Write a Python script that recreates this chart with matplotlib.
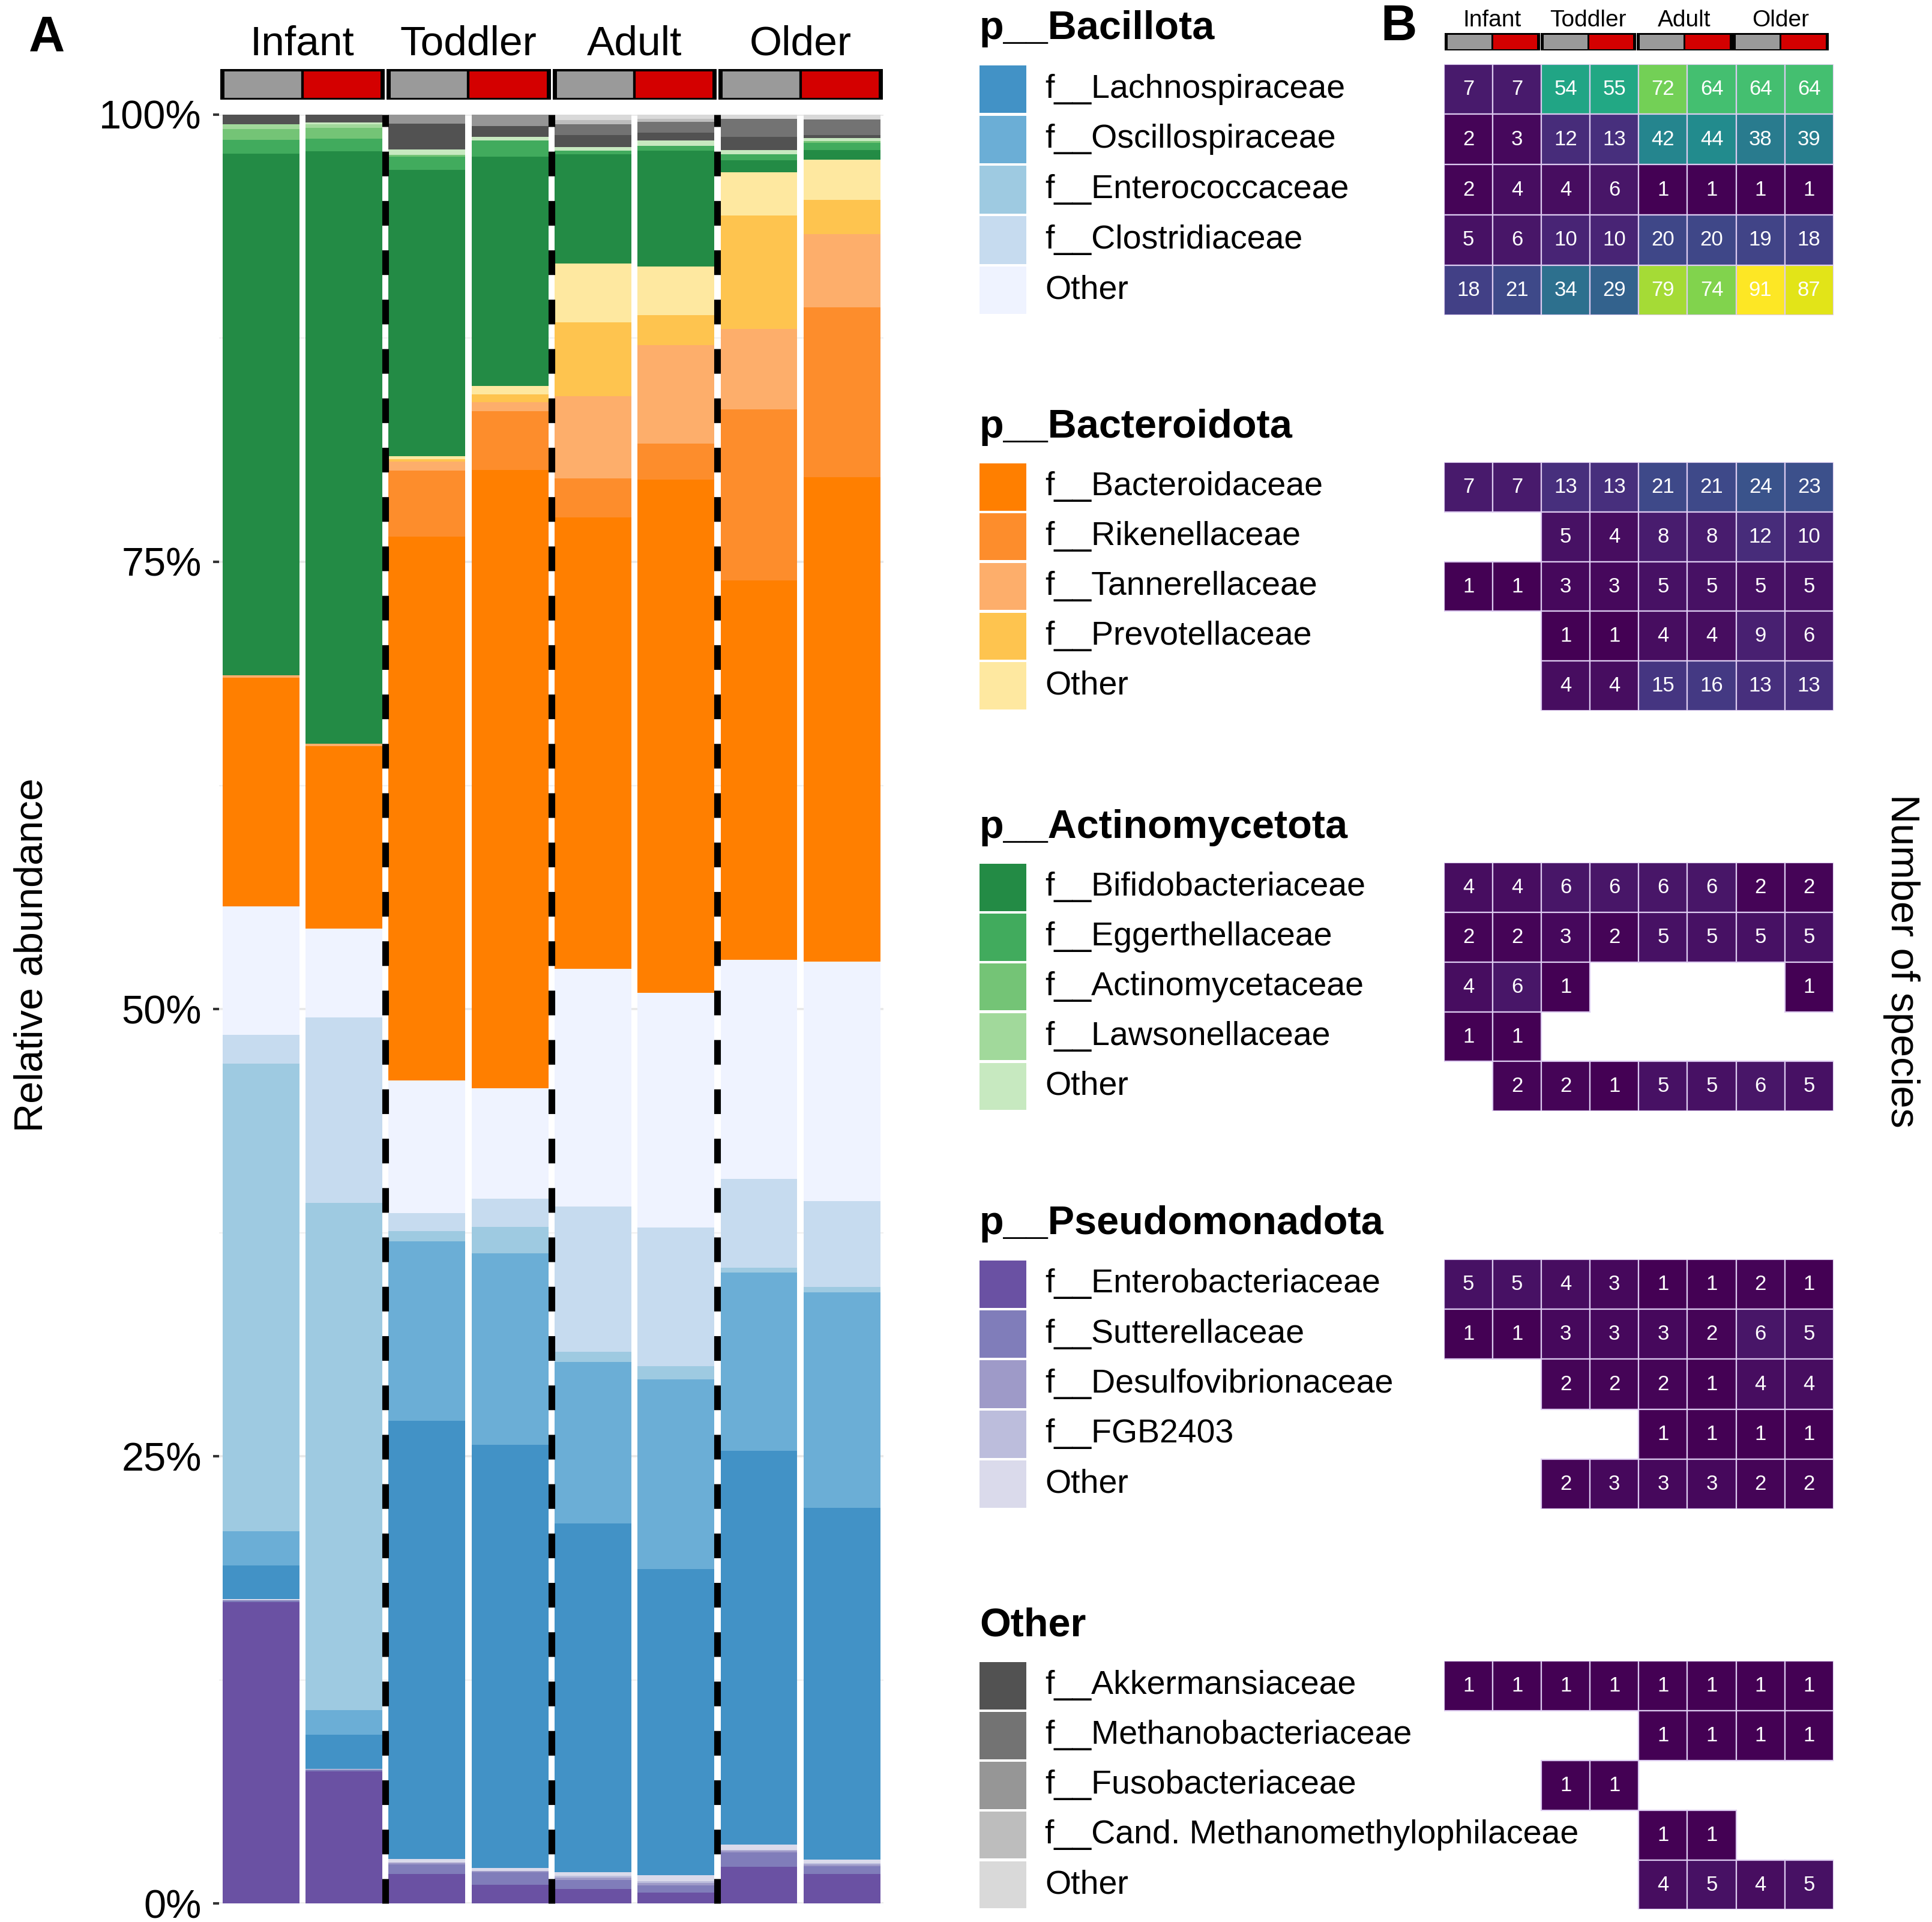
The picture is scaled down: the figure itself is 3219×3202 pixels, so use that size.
import matplotlib.pyplot as plt
import matplotlib.colors as mcolors
import numpy as np

plt.rcParams['font.family'] = ['Liberation Sans', 'DejaVu Sans']

# samples: control (grey) / case (red) per age group
age_groups = ['Infant', 'Toddler', 'Adult', 'Older']
condition_colors = ['#9a9a9a', '#d40000']

# relative abundance (%) per sample: Infant C, Infant T, Toddler C, Toddler T, Adult C, Adult T, Older C, Older T
# p__Pseudomonadota
enterobacteriaceae = [16.9, 7.4, 1.65, 1.06, 0.8, 0.62, 2.07, 1.65]
sutterellaceae = [0.1, 0.1, 0.55, 0.68, 0.5, 0.4, 0.8, 0.45]
desulfovibrionaceae = [0, 0, 0.1, 0.08, 0.15, 0.12, 0.1, 0.1]
fgb2403 = [0, 0, 0, 0, 0.1, 0.1, 0.05, 0.05]
other_pseudo = [0.05, 0.05, 0.2, 0.17, 0.2, 0.35, 0.3, 0.2]
# p__Bacillota
lachnospiraceae = [1.9, 1.9, 24.5, 23.7, 19.5, 17.1, 22.1, 19.7]
oscillospiraceae = [1.9, 1.4, 10.0, 10.7, 9.0, 10.6, 10.0, 12.05]
enterococcaceae = [26.2, 28.4, 0.6, 1.5, 0.6, 0.75, 0.27, 0.3]
clostridiaceae = [1.6, 10.4, 1.0, 1.55, 8.1, 7.75, 5.0, 4.8]
other_bacillota = [7.2, 5.0, 7.4, 6.2, 13.3, 13.1, 12.3, 13.4]
# p__Bacteroidota
bacteroidaceae = [12.8, 10.2, 30.4, 34.6, 25.2, 28.7, 21.3, 27.1]
rikenellaceae = [0, 0, 3.7, 3.3, 2.2, 2.0, 9.6, 9.5]
tannerellaceae = [0.15, 0.15, 0.5, 0.5, 4.6, 5.5, 4.5, 4.1]
prevotellaceae = [0, 0, 0.15, 0.45, 4.1, 1.7, 6.4, 1.9]
other_bacteroidota = [0, 0, 0.15, 0.45, 3.3, 2.7, 2.4, 2.25]
# p__Actinomycetota
bifidobacteriaceae = [29.2, 33.2, 16.0, 12.85, 6.1, 6.5, 0.67, 0.55]
eggerthellaceae = [0.8, 0.7, 0.75, 0.9, 0.2, 0.25, 0.35, 0.4]
actinomycetaceae = [0.6, 0.6, 0.1, 0, 0, 0, 0, 0.1]
lawsonellaceae = [0.25, 0.2, 0, 0, 0, 0, 0, 0]
other_actino = [0, 0.1, 0.3, 0.2, 0.2, 0.3, 0.25, 0.15]
# Other
akkermansiaceae = [0.55, 0.45, 1.45, 0.6, 0.67, 0.45, 0.73, 0.2]
methanobacteriaceae = [0, 0, 0, 0, 0.6, 0.6, 1.0, 0.85]
fusobacteriaceae = [0, 0, 0.5, 0.65, 0, 0, 0, 0]
cand_methano = [0, 0, 0, 0, 0.25, 0.15, 0, 0]
other_other = [0, 0, 0, 0, 0.3, 0.25, 0.25, 0.28]

# number of species (NaN = absent)
nan = np.nan
bacillota_counts = [[7, 7, 54, 55, 72, 64, 64, 64],
                    [2, 3, 12, 13, 42, 44, 38, 39],
                    [2, 4, 4, 6, 1, 1, 1, 1],
                    [5, 6, 10, 10, 20, 20, 19, 18],
                    [18, 21, 34, 29, 79, 74, 91, 87]]
bacteroidota_counts = [[7, 7, 13, 13, 21, 21, 24, 23],
                       [nan, nan, 5, 4, 8, 8, 12, 10],
                       [1, 1, 3, 3, 5, 5, 5, 5],
                       [nan, nan, 1, 1, 4, 4, 9, 6],
                       [nan, nan, 4, 4, 15, 16, 13, 13]]
actino_counts = [[4, 4, 6, 6, 6, 6, 2, 2],
                 [2, 2, 3, 2, 5, 5, 5, 5],
                 [4, 6, 1, nan, nan, nan, nan, 1],
                 [1, 1, nan, nan, nan, nan, nan, nan],
                 [nan, 2, 2, 1, 5, 5, 6, 5]]
pseudo_counts = [[5, 5, 4, 3, 1, 1, 2, 1],
                 [1, 1, 3, 3, 3, 2, 6, 5],
                 [nan, nan, 2, 2, 2, 1, 4, 4],
                 [nan, nan, nan, nan, 1, 1, 1, 1],
                 [nan, nan, 2, 3, 3, 3, 2, 2]]
other_counts = [[1, 1, 1, 1, 1, 1, 1, 1],
                [nan, nan, nan, nan, 1, 1, 1, 1],
                [nan, nan, 1, 1, nan, nan, nan, nan],
                [nan, nan, nan, nan, 1, 1, nan, nan],
                [nan, nan, nan, nan, 4, 5, 4, 5]]

blues = ['#4292c6', '#6baed6', '#9ecae1', '#c6dbef', '#eff3ff']
oranges = ['#ff7f00', '#fd8d2c', '#fdae6b', '#fec44f', '#fee8a0']
greens = ['#238b45', '#41ab5d', '#74c476', '#a1d99b', '#c7e9c0']
purples = ['#6a51a3', '#807dba', '#9e9ac8', '#bcbddc', '#dadaeb']
greys = ['#525252', '#737373', '#969696', '#bdbdbd', '#d9d9d9']

# phyla in legend order
phyla = [
    ('p__Bacillota', ['f__Lachnospiraceae', 'f__Oscillospiraceae', 'f__Enterococcaceae',
                      'f__Clostridiaceae', 'Other'], blues,
     [lachnospiraceae, oscillospiraceae, enterococcaceae, clostridiaceae, other_bacillota],
     bacillota_counts),
    ('p__Bacteroidota', ['f__Bacteroidaceae', 'f__Rikenellaceae', 'f__Tannerellaceae',
                         'f__Prevotellaceae', 'Other'], oranges,
     [bacteroidaceae, rikenellaceae, tannerellaceae, prevotellaceae, other_bacteroidota],
     bacteroidota_counts),
    ('p__Actinomycetota', ['f__Bifidobacteriaceae', 'f__Eggerthellaceae', 'f__Actinomycetaceae',
                           'f__Lawsonellaceae', 'Other'], greens,
     [bifidobacteriaceae, eggerthellaceae, actinomycetaceae, lawsonellaceae, other_actino],
     actino_counts),
    ('p__Pseudomonadota', ['f__Enterobacteriaceae', 'f__Sutterellaceae', 'f__Desulfovibrionaceae',
                           'f__FGB2403', 'Other'], purples,
     [enterobacteriaceae, sutterellaceae, desulfovibrionaceae, fgb2403, other_pseudo],
     pseudo_counts),
    ('Other', ['f__Akkermansiaceae', 'f__Methanobacteriaceae', 'f__Fusobacteriaceae',
               'f__Cand. Methanomethylophilaceae', 'Other'], greys,
     [akkermansiaceae, methanobacteriaceae, fusobacteriaceae, cand_methano, other_other],
     other_counts),
]
stack_order = [3, 0, 1, 2, 4]  # bottom to top

fig = plt.figure(figsize=(3219 / 200, 3202 / 200), dpi=200)


def fx(x):
    return x / 1568


def fy(y):
    return 1 - y / 1560


# ---- panel A: stacked bars ----
ax = fig.add_axes([fx(178), fy(1545), fx(717) - fx(178), fy(93) - fy(1545)])
x = np.arange(8)
layers = []
for p in stack_order:
    for vals, col in zip(phyla[p][3], phyla[p][2]):
        layers.append((np.array(vals, float), col))
totals = sum(v for v, _ in layers)
bottom = np.zeros(8)
for vals, col in layers:
    v = vals / totals * 100
    ax.bar(x, v, width=0.925, bottom=bottom, color=col, linewidth=0, zorder=2)
    bottom += v
for b in [1.5, 3.5, 5.5]:
    ax.plot([b, b], [0, 100], color='black', lw=4, linestyle=(0, (3.7, 3.7)),
            dash_capstyle='butt', zorder=5, clip_on=False)
ax.set_xlim(-0.5, 7.5)
ax.set_ylim(0, 100)
ax.set_yticks([0, 25, 50, 75, 100])
ax.set_yticklabels(['0%', '25%', '50%', '75%', '100%'])
ax.set_yticks(np.arange(12.5, 100, 25), minor=True)
ax.grid(axis='y', which='major', color='#e8e8e8', lw=1.3)
ax.grid(axis='y', which='minor', color='#f0f0f0', lw=0.8)
ax.set_axisbelow(True)
ax.set_xticks([])
ax.tick_params(axis='y', which='major', length=3.6, width=1.5, color='#333333',
               labelsize=24, pad=7)
ax.tick_params(axis='y', which='minor', length=0)
for s in ax.spines.values():
    s.set_visible(False)
fig.text(fx(26), fy(775), 'Relative abundance', rotation=90, fontsize=24,
         ha='center', va='center')
fig.text(fx(38), fy(31), 'A', fontsize=30, fontweight='bold', ha='center', va='center')


def header(axh, lw_cell, lw_box, label_y, fs):
    for g in range(4):
        axh.bar([2 * g + 0.0175, 2 * g + 0.9825], 1, width=0.965, color=condition_colors,
                edgecolor='black', linewidth=lw_cell)
        axh.bar(2 * g + 0.5, 1, width=1.93, fill=False, edgecolor='black', linewidth=lw_box)
        axh.text(2 * g + 0.5, label_y, age_groups[g], ha='center', va='center', fontsize=fs)
    axh.set_xlim(-0.5, 7.5)
    axh.set_ylim(0, 1)
    axh.axis('off')


hax = fig.add_axes([fx(178), fy(81), fx(717) - fx(178), fy(56) - fy(81)])
header(hax, 1.5, 2.5, 1.8, 25)

# ---- panel B: legend + heatmap ----
fig.text(fx(1135), fy(22), 'B', fontsize=30, fontweight='bold', ha='center', va='center')
bhx = fig.add_axes([fx(1172), fy(41), fx(1484) - fx(1172), fy(27) - fy(41)])
header(bhx, 1.0, 1.8, 1.75, 14)

cmap = plt.get_cmap('viridis')
norm = mcolors.Normalize(vmin=1, vmax=91)

group_rows = [(52, 256), (375, 577), (700, 902), (1022, 1225), (1348, 1550)]
for (title, fams, cols, _, counts), (top, bot) in zip(phyla, group_rows):
    lax = fig.add_axes([fx(795), fy(bot), fx(1170) - fx(795), fy(top) - fy(bot)])
    lax.barh(np.arange(5), 38, left=0, height=0.95, color=cols, linewidth=0)
    for i, f in enumerate(fams):
        lax.text(53, i, f, va='center', ha='left', fontsize=20)
    lax.text(0, -1.2, title, va='center', ha='left', fontsize=24, fontweight='bold')
    lax.set_xlim(0, 375)
    lax.set_ylim(4.5, -0.5)
    lax.axis('off')

    mx = fig.add_axes([fx(1172), fy(bot), fx(1488) - fx(1172), fy(top) - fy(bot)])
    for i in range(5):
        row = np.array(counts[i], float)
        cols_present = np.where(~np.isnan(row))[0]
        vals = row[cols_present]
        mx.bar(cols_present + 0.5, 1, bottom=i, width=1, color=cmap(norm(vals)),
               edgecolor='#dccbf0', linewidth=0.8)
        for j, v in zip(cols_present, vals):
            mx.text(j + 0.5, i + 0.5, str(int(v)), ha='center', va='center',
                    fontsize=12.5, color='white')
    mx.set_xlim(0, 8)
    mx.set_ylim(5, 0)
    mx.axis('off')

fig.text(fx(1543), fy(780), 'Number of species', rotation=-90, fontsize=24,
         ha='center', va='center')

fig.savefig('out.png', dpi=200, facecolor='white')
